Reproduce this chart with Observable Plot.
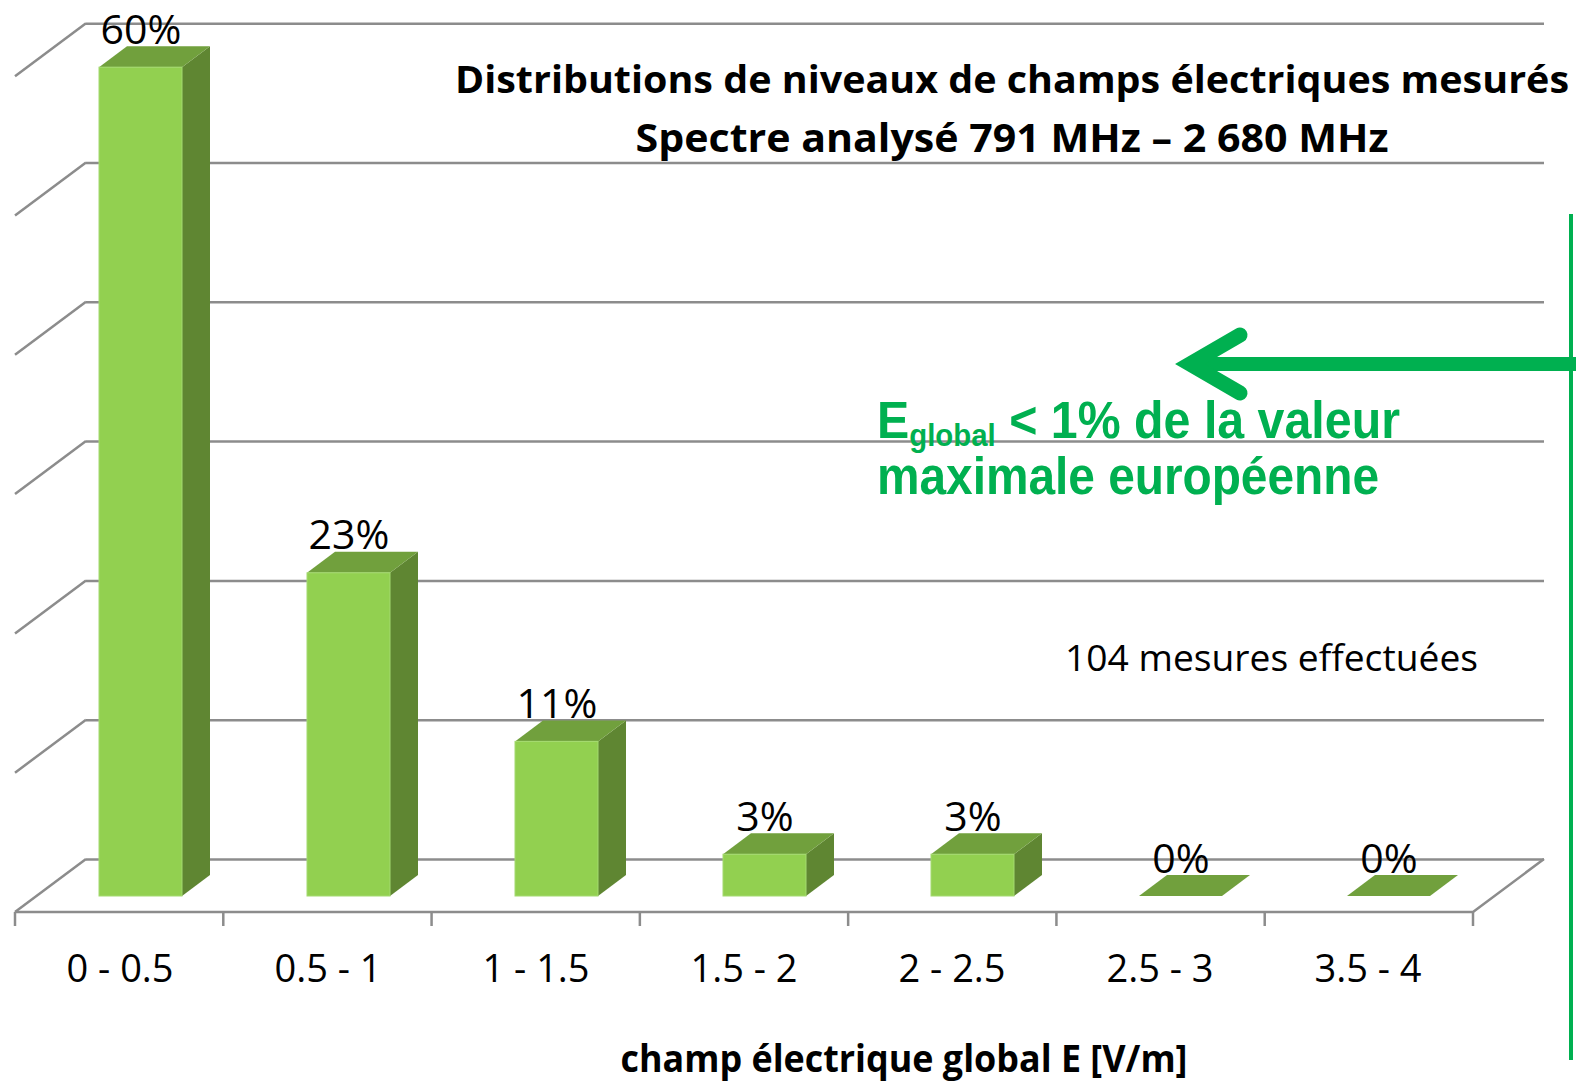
<!DOCTYPE html>
<html><head><meta charset="utf-8">
<script src="https://cdn.jsdelivr.net/npm/d3@7"></script>
<script src="https://cdn.jsdelivr.net/npm/@observablehq/plot@0.6"></script>
<style>
html,body{margin:0;padding:0;background:#fff;}
#wrap{position:relative;width:1576px;height:1082px;overflow:hidden;background:#fff;}
#wrap svg{position:absolute;left:0;top:0;}
</style></head><body><div id="wrap"></div>
<script>
// ---- data ----
const categories = ["0 - 0.5", "0.5 - 1", "1 - 1.5", "1.5 - 2", "2 - 2.5", "2.5 - 3", "3.5 - 4"];
const percentages = [59.5, 23.2, 11.1, 3.0, 3.0, 0, 0];
const gridValues = [0, 10, 20, 30, 40, 50, 60];
const titleLines = ["Distributions de niveaux de champs électriques mesurés", "Spectre analysé 791 MHz – 2 680 MHz"];
const xAxisTitle = "champ électrique global E [V/m]";
const noteText = "104 mesures effectuées";
const limitLine1 = ["E", "global", " < 1% de la valeur"];
const limitLine2 = "maximale européenne";

const table = categories.map((c, i) => ({cat: c, value: percentages[i]}));

// ---- style ----
const FRONT = "#92D050", TOP = "#71A03D", SIDE = "#5F8632", GRID = "#8c8c8c", GREEN = "#00B050";
const BACK_OFF = [71, -53];   // wall depth offset (px)
const BAR_OFF = [21, -16];    // bar front plane offset (px)
const BAR_DEPTH = [28, -21];  // bar depth (px)
const FONT = "'Open Sans', 'Noto Sans', sans-serif";

function walls(index, scales, values, dims) {
  const {x, y} = scales;
  const x0 = dims.marginLeft, x1 = dims.width - dims.marginRight;
  const g = d3.create("svg:g").attr("fill", "none").attr("stroke", GRID).attr("stroke-width", 2.5);
  for (const v of gridValues) {
    g.append("path").attr("d", `M${x0},${y(v)}L${x0 + BACK_OFF[0]},${y(v) + BACK_OFF[1]}`);
  }
  g.append("path").attr("d", `M${x0},${y(0)}H${x1}L${x1 + BACK_OFF[0]},${y(0) + BACK_OFF[1]}`);
  const n = categories.length, step = (x1 - x0) / n;
  for (let k = 0; k <= n; k++) g.append("path").attr("d", `M${x0 + k * step},${y(0)}v14`);
  return g.node();
}

function barFaces(index, scales) {
  const {x, y} = scales;
  const bw = x.bandwidth();
  const g = d3.create("svg:g");
  table.forEach(d => {
    const l = x(d.cat) + BAR_OFF[0], r = l + bw;
    const t = y(d.value) + BAR_OFF[1], b = y(0) + BAR_OFF[1];
    const [ddx, ddy] = BAR_DEPTH;
    if (d.value > 0) g.append("path").attr("fill", SIDE)
      .attr("d", `M${r},${t}L${r + ddx},${t + ddy}V${b + ddy}L${r},${b}Z`);
    g.append("path").attr("fill", TOP)
      .attr("d", `M${l},${t}L${l + ddx},${t + ddy}H${r + ddx}L${r},${t}Z`);
  });
  return g.node();
}

const labelSize = 41, tickSize = 38;
const chart = Plot.plot({
  width: 1576,
  height: 1082,
  marginLeft: 15,
  marginRight: 103,
  marginTop: 76.2,
  marginBottom: 170,
  style: {fontFamily: FONT, background: "transparent", overflow: "visible"},
  x: {type: "band", domain: categories, paddingInner: 0.6, paddingOuter: 0.3, axis: null},
  y: {domain: [0, 60], axis: null},
  marks: [
    Plot.ruleY(gridValues, {dx: BACK_OFF[0], dy: BACK_OFF[1], stroke: GRID, strokeWidth: 2.5}),
    walls,
    barFaces,
    Plot.barY(table, {x: "cat", y: "value", fill: FRONT, stroke: "#a4da70", strokeWidth: 1, dx: BAR_OFF[0], dy: BAR_OFF[1]}),
    Plot.text(table, {x: "cat", y: "value", text: d => Math.round(d.value) + "%", dx: BAR_OFF[0],
      dy: BAR_OFF[1] - 24 - 0.32 * labelSize, lineAnchor: "middle", fontSize: labelSize, fill: "#000"}),
    Plot.text(categories, {x: d => d, frameAnchor: "bottom", lineAnchor: "middle", text: d => d,
      dy: 69 - 0.32 * tickSize, fontSize: tickSize, fill: "#000"})
  ]
});

const wrap = document.getElementById("wrap");
wrap.appendChild(chart);

// ---- annotations overlay ----
const ov = d3.select(wrap).append("svg").attr("width", 1576).attr("height", 1082)
  .style("font-family", FONT);

ov.append("text").attr("x", 1012).attr("y", 93).attr("text-anchor", "middle")
  .attr("font-weight", 700).attr("font-size", 37.5).attr("textLength", 1114).attr("lengthAdjust", "spacingAndGlyphs")
  .text(titleLines[0]);
ov.append("text").attr("x", 1012).attr("y", 152).attr("text-anchor", "middle")
  .attr("font-weight", 700).attr("font-size", 39).attr("textLength", 753).attr("lengthAdjust", "spacingAndGlyphs")
  .text(titleLines[1]);

ov.append("text").attr("x", 1065).attr("y", 671).attr("font-size", 37).attr("textLength", 413)
  .attr("lengthAdjust", "spacingAndGlyphs").text(noteText);

ov.append("text").attr("x", 904).attr("y", 1072).attr("text-anchor", "middle")
  .attr("font-weight", 700).attr("font-size", 38).attr("textLength", 567).attr("lengthAdjust", "spacingAndGlyphs")
  .text(xAxisTitle);

// green annotation
const ga = ov.append("g").attr("fill", GREEN).attr("font-family", "'Liberation Sans', Arial, sans-serif").attr("font-weight", 700);
const t1 = ga.append("text").attr("x", 877).attr("y", 438).attr("font-size", 51)
  .attr("textLength", 523).attr("lengthAdjust", "spacingAndGlyphs");
t1.append("tspan").text(limitLine1[0]);
t1.append("tspan").attr("font-size", 31).attr("dy", 8).text(limitLine1[1]);
t1.append("tspan").attr("dy", -8).text(limitLine1[2]);
ga.append("text").attr("x", 877).attr("y", 494).attr("font-size", 51).attr("textLength", 502)
  .attr("lengthAdjust", "spacingAndGlyphs").text(limitLine2);

ov.append("path").attr("d", "M1571,214V1060").attr("stroke", GREEN).attr("stroke-width", 4).attr("fill", "none");
ov.append("path").attr("d", "M1200,364H1576").attr("stroke", GREEN).attr("stroke-width", 14).attr("fill", "none");
ov.append("path").attr("d", "M1240,335L1190,364L1240,393").attr("stroke", GREEN).attr("stroke-width", 15)
  .attr("fill", "none").attr("stroke-linecap", "round").attr("stroke-linejoin", "miter");
</script></body></html>
